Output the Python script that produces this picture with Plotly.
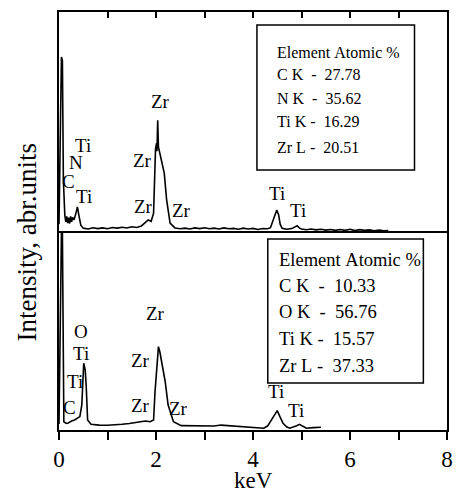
import plotly.graph_objects as go

# ---------------- data ----------------
top_kev = [0.00, 0.02, 0.05, 0.07, 0.09, 0.12, 0.14, 0.16, 0.18, 0.20, 0.22, 0.24, 0.26, 0.28, 0.31,
           0.35, 0.38, 0.41, 0.45, 0.50, 0.60, 0.70, 0.80, 0.90, 1.00, 1.10, 1.20, 1.30, 1.40, 1.50,
           1.60, 1.70, 1.78, 1.84, 1.90, 1.95, 1.99, 2.01, 2.02, 2.035, 2.05, 2.08, 2.11, 2.17, 2.22,
           2.29, 2.39, 2.50, 2.60, 2.70, 2.80, 2.90, 3.00, 3.10, 3.20, 3.30, 3.40, 3.50, 3.60, 3.70,
           3.80, 3.90, 4.00, 4.10, 4.20, 4.30, 4.36, 4.42, 4.49, 4.53, 4.56, 4.60, 4.69, 4.80, 4.86,
           4.91, 4.96, 5.00, 5.10, 5.20, 5.30, 5.40, 5.50, 5.60, 5.70, 5.80, 5.90, 6.00, 6.10, 6.20,
           6.30, 6.40, 6.50, 6.60, 6.70, 6.79]
top_int = [4.0, 30.0, 79.6, 78.0, 24.0, 8.0, 5.0, 7.5, 4.5, 7.0, 4.3, 7.5, 5.0, 7.0, 6.0,
           9.0, 11.8, 8.0, 3.5, 2.2, 1.8, 2.4, 2.0, 2.3, 1.9, 2.5, 2.2, 2.6, 2.3, 2.8,
           2.5, 3.2, 4.8, 5.9, 5.3, 9.0, 38.0, 40.5, 37.0, 51.0, 39.0, 36.0, 34.0, 27.1, 14.9,
           4.5, 2.3, 1.9, 2.2, 1.8, 2.3, 2.0, 2.4, 1.9, 2.2, 1.8, 2.3, 1.9, 2.1, 1.7,
           2.2, 1.8, 2.1, 1.6, 2.0, 1.9, 2.4, 6.0, 10.4, 8.0, 4.0, 2.1, 1.7, 2.0, 2.6,
           3.3, 2.2, 1.8, 1.5, 1.8, 1.4, 1.7, 1.3, 1.6, 1.2, 1.6, 1.2, 1.7, 1.1, 1.5,
           1.2, 1.4, 1.0, 1.3, 1.0, 1.1]

bot_kev = [0.00, 0.02, 0.05, 0.07, 0.09, 0.10, 0.15, 0.19, 0.26, 0.32, 0.43, 0.47, 0.51, 0.54, 0.56,
           0.59, 0.66, 0.75, 0.83, 1.00, 1.17, 1.30, 1.45, 1.58, 1.70, 1.78, 1.88, 1.95, 1.98, 2.02,
           2.05, 2.08, 2.12, 2.19, 2.25, 2.36, 2.52, 2.70, 2.86, 3.00, 3.10, 3.20, 3.34, 3.45, 3.61,
           3.75, 3.88, 4.05, 4.22, 4.30, 4.38, 4.50, 4.56, 4.62, 4.70, 4.76, 4.90, 4.96, 5.02, 5.10,
           5.25, 5.40]
bot_int = [3.0, 40.0, 100.0, 100.0, 7.6, 4.2, 3.4, 3.6, 4.6, 5.1, 6.8, 12.7, 33.9, 30.5, 22.8,
           5.1, 2.9, 2.6, 2.5, 2.4, 2.5, 2.9, 3.3, 3.9, 4.4, 4.6, 4.2, 5.1, 19.4, 35.5,
           42.3, 39.6, 34.7, 24.5, 12.7, 4.2, 2.2, 2.1, 2.0, 2.2, 1.9, 2.0, 2.5, 2.3, 1.7,
           1.4, 1.2, 1.0, 0.9, 2.0, 5.0, 9.8, 6.5, 3.4, 1.5, 0.9, 2.2, 2.9, 2.0, 0.9,
           1.2, 1.4]

# peak labels: text, keV, intensity
top_lbl_text = ["Zr", "Ti", "N", "C", "Ti", "Zr", "Zr", "Zr", "Ti", "Ti"]
top_lbl_x = [2.09, 0.49, 0.36, 0.19, 0.51, 1.73, 1.75, 2.52, 4.49, 4.93]
top_lbl_y = [59.3, 39.8, 31.7, 23.1, 16.3, 33.0, 12.2, 10.4, 18.0, 10.4]

bot_lbl_text = ["Zr", "O", "Ti", "Ti", "C", "Zr", "Zr", "Zr", "Ti", "Ti"]
bot_lbl_x = [1.98, 0.46, 0.46, 0.32, 0.22, 1.68, 1.68, 2.46, 4.47, 4.89]
bot_lbl_y = [59.2, 49.9, 38.6, 24.5, 11.3, 35.5, 12.3, 10.7, 19.3, 9.9]

top_table = ["Element Atomic %", "C K  -  27.78", "N K  -  35.62", "Ti K -  16.29", "Zr L -  20.51"]
bot_table = ["Element Atomic %", "C K  -  10.33", "O K  -  56.76", "Ti K -  15.57", "Zr L -  37.33"]

tick_vals = [0, 1, 2, 3, 4, 5, 6, 7, 8]
tick_text = ["0", "", "2", "", "4", "", "6", "", "8"]

# ---------------- figure ----------------
FONT = "Liberation Serif"
W, H = 459, 493
L, R, T, B = 59, 6, 12, 63
PW, PH = W - L - R, H - T - B
split = (430 - 233) / PH


def px(xp):
    return (xp - L) / PW


def py(yp):
    return (H - B - yp) / PH


fig = go.Figure()
fig.add_trace(go.Scatter(x=top_kev, y=top_int, mode="lines", xaxis="x2", yaxis="y",
                         line=dict(color="black", width=1.6), showlegend=False))
fig.add_trace(go.Scatter(x=bot_kev, y=bot_int, mode="lines", xaxis="x", yaxis="y2",
                         line=dict(color="black", width=1.6), showlegend=False))

ann = []
for t, x, y in zip(top_lbl_text, top_lbl_x, top_lbl_y):
    ann.append(dict(text=t, x=x, y=y, xref="x2", yref="y", showarrow=False,
                    font=dict(family=FONT, size=19, color="black")))
for t, x, y in zip(bot_lbl_text, bot_lbl_x, bot_lbl_y):
    ann.append(dict(text=t, x=x, y=y, xref="x", yref="y2", showarrow=False,
                    font=dict(family=FONT, size=19, color="black")))

top_rows_y = [52.3, 75.0, 98.3, 121.7, 147.3]
for t, yy in zip(top_table, top_rows_y):
    ann.append(dict(text=t.replace(" ", "\u00a0"), x=px(278), y=py(yy), xref="paper", yref="paper",
                    xanchor="left", yanchor="middle", showarrow=False,
                    font=dict(family=FONT, size=16, color="black")))
bot_rows_y = [260.0, 285.7, 312.3, 339.0, 365.7]
for t, yy in zip(bot_table, bot_rows_y):
    ann.append(dict(text=t.replace(" ", "\u00a0"), x=px(280.7), y=py(yy), xref="paper", yref="paper",
                    xanchor="left", yanchor="middle", showarrow=False,
                    font=dict(family=FONT, size=18.5, color="black")))

ann.append(dict(text="Intensity, abr.units", x=px(26), y=py(243), xref="paper", yref="paper",
                textangle=-90, showarrow=False, xanchor="center", yanchor="middle",
                font=dict(family=FONT, size=27, color="black")))
ann.append(dict(text="keV", x=4, y=py(481), xref="x", yref="paper", showarrow=False,
                xanchor="center", yanchor="middle",
                font=dict(family=FONT, size=23, color="black")))

shapes = [
    dict(type="rect", xref="paper", yref="paper", x0=px(260), x1=px(420), y0=py(170), y1=py(25),
         line=dict(color="black", width=1.5)),
    dict(type="rect", xref="paper", yref="paper", x0=px(271), x1=px(429), y0=py(383), y1=py(239),
         line=dict(color="black", width=1.5)),
]

fig.update_layout(
    width=W, height=H, margin=dict(l=L, r=R, t=T, b=B),
    paper_bgcolor="white", plot_bgcolor="white",
    annotations=ann, shapes=shapes,
    xaxis=dict(range=[0, 8], anchor="y2", showgrid=False, zeroline=False,
               showline=True, linecolor="black", linewidth=1.5, mirror=True,
               ticks="outside", ticklen=8, tickwidth=1.5, tickcolor="black",
               tickvals=tick_vals, ticktext=tick_text, ticklabelstandoff=0,
               tickfont=dict(family=FONT, size=23, color="black")),
    xaxis2=dict(range=[0, 8], matches="x", anchor="y", side="top", showgrid=False,
                zeroline=False, showline=True, linecolor="black", linewidth=1.5,
                ticks="inside", ticklen=6, tickwidth=1.5, tickcolor="black",
                tickvals=tick_vals, showticklabels=False),
    yaxis=dict(domain=[split, 1], range=[0, 100], anchor="x2", showgrid=False, zeroline=False,
               showline=True, linecolor="black", linewidth=1.5, mirror=True,
               ticks="", showticklabels=False),
    yaxis2=dict(domain=[0, split], range=[0, 100], anchor="x", showgrid=False, zeroline=False,
                showline=True, linecolor="black", linewidth=1.5, mirror=True,
                ticks="", showticklabels=False),
)

fig.write_html("out.html", config={"displayModeBar": False},
               post_script="document.body.style.margin='0px';")
